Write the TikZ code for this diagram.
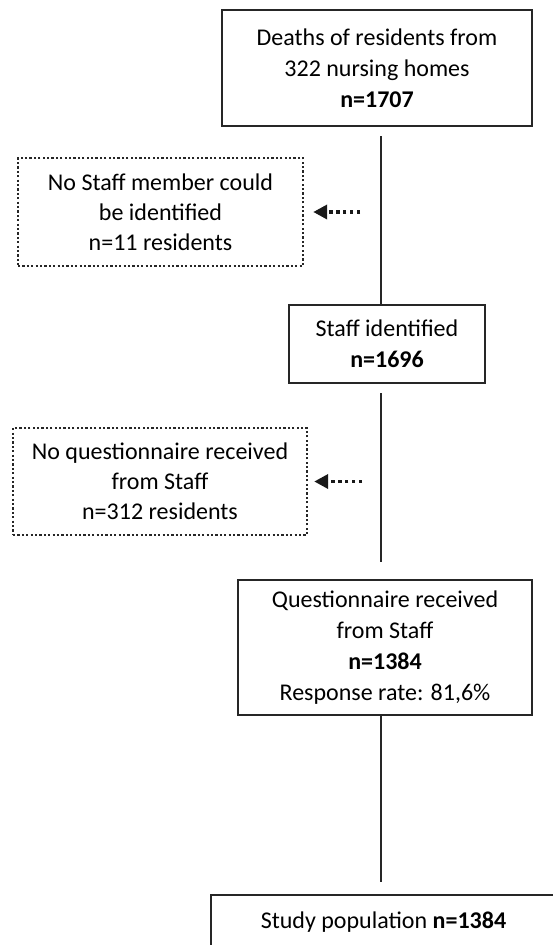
\documentclass[tikz,border=0pt]{standalone}
\usepackage{fontspec}
\setmainfont{Carlito}
\usetikzlibrary{arrows.meta}

\begin{document}
\begin{tikzpicture}[x=1pt,y=-1pt,
  flowbox/.style={draw=black!85, line width=2.4pt, align=center, inner sep=0pt,
    font=\fontsize{24}{31}\selectfont},
  dropbox/.style={draw=black!85, line width=2.4pt, dash pattern=on 2.2pt off 2.2pt,
    align=center, inner sep=0pt, font=\fontsize{24}{30}\selectfont},
  flowline/.style={black!85, line width=1.3pt},
  droparrow/.style={black!90, line width=3.6pt, dash pattern=on 3.4pt off 3.4pt,
    -{Triangle[length=14pt,width=14pt]}}]
\useasboundingbox (0,0) rectangle (552,945);
% main column
\node [flowbox, minimum width=310pt, minimum height=116pt] (deaths) at (377,68)
  {Deaths of residents from\\322 nursing homes\\\textbf{n=1707}};
\node [flowbox, minimum width=196pt, minimum height=78pt] (staffid) at (387,344)
  {Staff identified\\\textbf{n=1696}};
\node [flowbox, minimum width=294pt, minimum height=135pt] (quest) at (385,647.5)
  {Questionnaire received\\from Staff\\\textbf{n=1384}\\Response rate: 81,6\%};
\node [flowbox, minimum width=345pt, minimum height=54pt] (study) at (383.5,922)
  {Study population \textbf{n=1384}};
% excluded
\node [dropbox, minimum width=285pt, minimum height=108pt] (nostaff) at (160.5,212)
  {No Staff member could\\be identified\\n=11 residents};
\node [dropbox, minimum width=294pt, minimum height=107pt] (noquest) at (160,481.5)
  {No questionnaire received\\from Staff\\n=312 residents};
% connectors
\coordinate (l1) at (381,136);
\coordinate (l2) at (381,393);
\coordinate (l2end) at (381,562);
\coordinate (l3end) at (381,882);
\coordinate (a1) at (360,212);
\coordinate (a2) at (362,481.5);
\draw [flowline] (l1) -- (l1 |- staffid.north);
\draw [flowline] (l2) -- (l2end);
\draw [flowline] (l2 |- quest.south) -- (l3end);
\draw [droparrow] (a1) -- ([xshift=9pt]nostaff.east);
\draw [droparrow] (a2) -- ([xshift=6pt]noquest.east);
\end{tikzpicture}
\end{document}
